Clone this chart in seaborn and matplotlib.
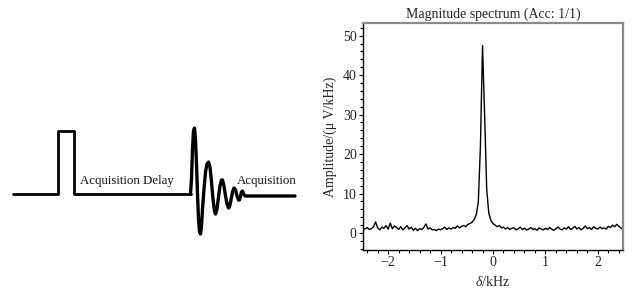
import numpy as np
import pandas as pd
import matplotlib
matplotlib.use("Agg")
import matplotlib.pyplot as plt
from matplotlib.ticker import MultipleLocator
import seaborn as sns

# ---------------- data ----------------
# Pulse sequence schematic (time in arbitrary units, amplitude relative to baseline)
pulse_t = [13, 58, 58, 74, 74, 190.5]
pulse_a = [0, 0, 63, 63, 0, 0]

fid_t = [190.5, 191.5, 192.5, 193.5, 194.5, 195.5, 196.5, 197.5, 198.5, 199.5,
         200.5, 201.5, 202.5, 204, 205.5, 207, 208.5, 210, 211.5, 213,
         214.5, 215.5, 217, 218.5, 220, 221.5, 222.5, 224, 225.5, 227,
         228.5, 229.5, 231, 232.5, 234, 235.5, 237, 238.5, 239.5, 240.5,
         241.5, 242.5, 243.5, 245, 260, 295]
fid_a = [0, 15, 45, 63, 66, 55, 30, 0, -25, -38,
         -40, -32, -15, 5, 22, 30, 32, 27, 12, -5,
         -17, -20, -15, -3, 8, 14, 14, 8, -2, -10,
         -14, -13, -6, 2, 6, 4, -2, -6, -6, -2,
         2, 3, 0, -2, -2, -2]

label_delay = "Acquisition Delay"
label_acq = "Acquisition"

# Magnitude spectrum
freq_khz = np.round(np.arange(-2.48, 2.4801, 0.04), 2)
amplitude = [1.2, 1.0, 1.4, 0.9, 1.1, 1.6, 2.8, 1.3, 0.8, 1.5,
             1.2, 1.9, 1.0, 2.5, 1.1, 1.8, 1.4, 0.9, 1.6, 0.8,
             1.3, 1.9, 1.0, 1.5, 0.7, 1.2, 0.6, 1.1, 0.9, 1.4,
             2.3, 1.0, 1.3, 0.8, 0.9, 0.6, 1.0, 0.8, 1.1, 1.5,
             0.9, 1.3, 1.0, 1.4, 1.2, 1.8, 1.3, 1.7, 1.9, 1.6,
             2.2, 2.4, 2.7, 3.4, 4.6, 7.8, 22.0, 47.5, 30.0, 11.0,
             5.0, 3.2, 2.4, 2.0, 1.6, 1.9, 1.3, 1.5, 1.0, 1.4,
             0.9, 1.2, 1.3, 0.8, 1.1, 1.5, 0.9, 1.2, 0.8, 1.0,
             1.4, 0.9, 1.1, 0.7, 1.3, 1.0, 0.8, 1.2, 0.9, 1.4,
             1.0, 0.7, 1.1, 1.5, 1.0, 0.8, 1.3, 1.0, 1.6, 0.9,
             1.2, 1.7, 1.0, 1.4, 0.8, 1.2, 1.8, 1.1, 1.4, 0.9,
             1.6, 1.2, 1.0, 1.5, 1.1, 1.3, 1.0, 1.7, 1.4, 2.0,
             1.6, 2.2, 1.7, 1.3, 0.9]

title = "Magnitude spectrum (Acc: 1/1)"
ylabel = "Amplitude/(μ V/kHz)"
xlabel = r"$\delta$/kHz"

# ---------------- style ----------------
sns.set_theme(style="ticks")
plt.rcParams["font.family"] = ["Liberation Serif", "DejaVu Serif"]
plt.rcParams["mathtext.fontset"] = "custom"
plt.rcParams["mathtext.rm"] = "Liberation Serif"
plt.rcParams["mathtext.it"] = "Liberation Serif:italic"
plt.rcParams["axes.unicode_minus"] = True

fig = plt.figure(figsize=(6.36, 2.97), dpi=100)

# ---------------- left panel: pulse sequence ----------------
axL = fig.add_axes([0, 0, 310 / 636, 1])
axL.set_xlim(0, 310)
axL.set_ylim(-103, 194)
axL.axis("off")
sns.lineplot(x=pulse_t, y=pulse_a, sort=False, estimator=None, ax=axL,
             color="black", linewidth=2.0)
sns.lineplot(x=fid_t, y=fid_a, sort=False, estimator=None, ax=axL,
             color="black", linewidth=2.4)
axL.text(80, 13, label_delay, fontsize=9.3, va="center", ha="left", color="#111")
axL.text(237, 13, label_acq, fontsize=9.3, va="center", ha="left", color="#111")

# ---------------- right panel: spectrum ----------------
ax = fig.add_axes([363 / 636, 1 - 250 / 297, 260 / 636, 227 / 297])
df = pd.DataFrame({"freq": freq_khz, "amp": amplitude})
sns.lineplot(data=df, x="freq", y="amp", ax=ax, color="black", linewidth=1.0,
             sort=False, estimator=None)
ax.set_xlim(-2.48, 2.48)
ax.set_ylim(-4.3, 53.2)
ax.xaxis.set_major_locator(MultipleLocator(1))
ax.xaxis.set_minor_locator(MultipleLocator(0.2))
ax.yaxis.set_major_locator(MultipleLocator(10))
ax.yaxis.set_minor_locator(MultipleLocator(2))
ax.tick_params(which="major", direction="out", length=3, width=0.8,
               labelsize=10, color="black", pad=1.5)
ax.tick_params(which="minor", direction="out", length=2, width=0.8, color="black")
ax.tick_params(axis="x", which="both", top=False)
ax.tick_params(axis="y", which="both", right=False)
for s in ["left", "bottom"]:
    ax.spines[s].set_color("black")
    ax.spines[s].set_linewidth(1.0)
for s in ["top", "right"]:
    ax.spines[s].set_visible(True)
    ax.spines[s].set_color("#8a8a8a")
    ax.spines[s].set_linewidth(1.6)
ax.set_title(title, fontsize=10, pad=4)
ax.set_xlabel(xlabel, fontsize=10, labelpad=4)
ax.set_ylabel(ylabel, fontsize=10, labelpad=4)

fig.savefig("out.png", dpi=100)
